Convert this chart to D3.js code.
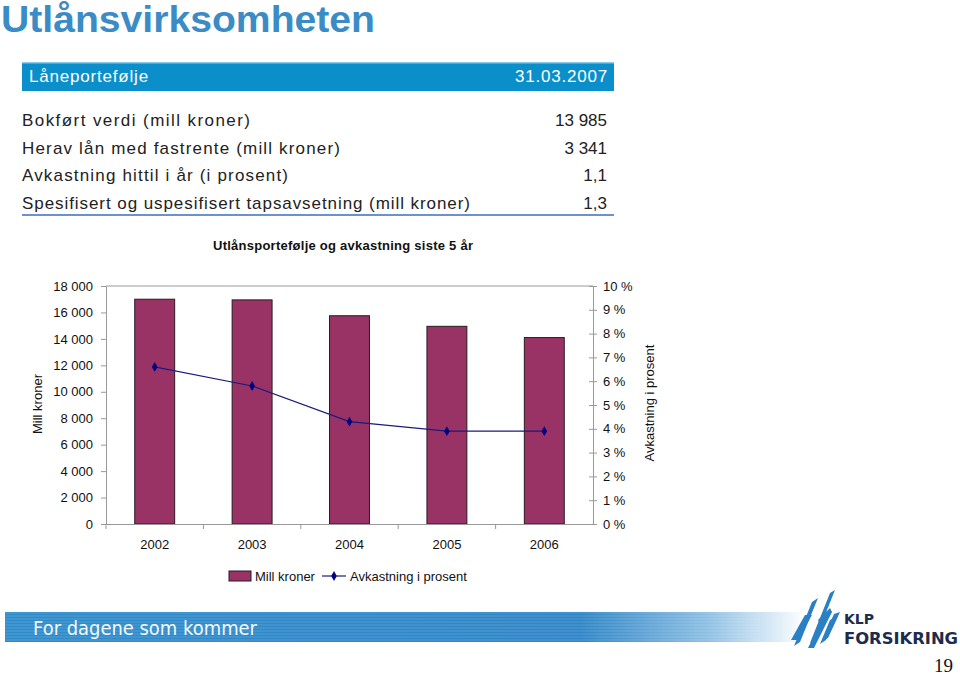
<!DOCTYPE html>
<html><head><meta charset="utf-8">
<script src="https://cdn.jsdelivr.net/npm/d3@7"></script>
<style>body{margin:0;background:#fff}svg{display:block}</style>
</head><body>
<svg id="c" width="960" height="675"></svg>
<script>
const years = ["2002","2003","2004","2005","2006"];
const loanValues = [17000, 16950, 15750, 14950, 14100];
const returnPct = [6.6, 5.8, 4.3, 3.9, 3.9];
const leftTicks = [0,2000,4000,6000,8000,10000,12000,14000,16000,18000];
const rightTicks = [0,1,2,3,4,5,6,7,8,9,10];
const tableLabels = ["Bokført verdi  (mill kroner)","Herav lån med fastrente (mill kroner)","Avkastning hittil i år (i prosent)","Spesifisert og uspesifisert tapsavsetning (mill kroner)"];
const tableValues = ["13 985","3 341","1,1","1,3"];
const tableLabelWidths = [228, 318, 266, 448];

const svg = d3.select("#c");
const F = "'Liberation Sans', Arial, sans-serif";

// Title
svg.append("text").attr("x",1).attr("y",32).attr("font-family",F).attr("font-weight","bold")
  .attr("font-size",36).attr("fill","#3b8cc6").attr("textLength",374).attr("lengthAdjust","spacingAndGlyphs")
  .text("Utlånsvirksomheten");

// Header bar
svg.append("rect").attr("x",22).attr("y",62).attr("width",592).attr("height",29).attr("fill","#0a8fca");
svg.append("rect").attr("x",22).attr("y",62).attr("width",592).attr("height",1.5).attr("fill","#8cc8ea");
svg.append("text").attr("x",29).attr("y",82).attr("font-family",F).attr("font-size",17).attr("fill","#fff")
  .attr("letter-spacing",0.8).text("Låneportefølje");
svg.append("text").attr("x",608).attr("y",82).attr("text-anchor","end").attr("font-family",F).attr("font-size",17)
  .attr("fill","#fff").attr("letter-spacing",0.8).text("31.03.2007");

// Table
tableLabels.forEach((t,i)=>{
  const y = 126 + i*27.7;
  svg.append("text").attr("x",22).attr("y",y).attr("font-family",F).attr("font-size",17).attr("fill","#222")
    .attr("textLength",tableLabelWidths[i]).attr("lengthAdjust","spacing").text(t);
  svg.append("text").attr("x",607).attr("y",y).attr("text-anchor","end").attr("font-family",F).attr("font-size",17).attr("fill","#222").text(tableValues[i]);
});
svg.append("line").attr("x1",22).attr("x2",614).attr("y1",215).attr("y2",215).attr("stroke","#3d6cc0").attr("stroke-width",1.5);

// Chart
const x0=106, x1=593, yTop=286, yBot=524;
const x = d3.scaleBand().domain(years).range([x0,x1]).paddingInner(0.59).paddingOuter(0.295);
const xb = d3.scaleBand().domain(years).range([x0,x1]);
const yL = d3.scaleLinear().domain([0,18000]).range([yBot,yTop]);
const yR = d3.scaleLinear().domain([0,10]).range([yBot,yTop]);
const fmt = d => d3.format(",")(d).replace(/,/g," ");

svg.append("text").attr("x",343).attr("y",250).attr("text-anchor","middle").attr("font-family",F)
  .attr("font-weight","bold").attr("font-size",13).attr("fill","#111")
  .attr("textLength",260).attr("lengthAdjust","spacing").text("Utlånsportefølje og avkastning siste 5 år");

// top border
svg.append("line").attr("x1",x0).attr("x2",x1).attr("y1",yTop).attr("y2",yTop).attr("stroke","#999");

// bars
svg.selectAll("rect.bar").data(years).join("rect").attr("class","bar")
  .attr("x",d=>x(d)).attr("width",x.bandwidth())
  .attr("y",(d,i)=>yL(loanValues[i])).attr("height",(d,i)=>yBot-yL(loanValues[i]))
  .attr("fill","#993366").attr("stroke","#2a1a22").attr("stroke-width",1);

// left axis
const gL = svg.append("g").attr("transform",`translate(${x0},0)`)
  .call(d3.axisLeft(yL).tickValues(leftTicks).tickFormat(fmt).tickSize(5).tickSizeOuter(0));
// right axis
const gR = svg.append("g").attr("transform",`translate(${x1},0)`)
  .call(d3.axisRight(yR).tickValues(rightTicks).tickFormat(d=>d+" %").tickSize(4).tickSizeOuter(0));
gR.selectAll(".tick line").attr("x1",-4);
// bottom axis
const gB = svg.append("g").attr("transform",`translate(0,${yBot})`)
  .call(d3.axisBottom(xb).tickSize(0).tickSizeOuter(0));
[gL,gR,gB].forEach(g=>{
  g.select(".domain").attr("stroke","#999");
  g.selectAll(".tick line").attr("stroke","#999");
  g.selectAll("text").attr("font-family",F).attr("font-size",13).attr("fill","#111");
});
gL.selectAll("text").attr("x",-13);
gR.selectAll("text").attr("x",10);
gB.selectAll("text").attr("dy",0).attr("y",25);
// category boundary ticks
svg.selectAll("line.ct").data(years).join("line").attr("class","ct")
  .attr("x1",d=>xb(d)).attr("x2",d=>xb(d)).attr("y1",yBot).attr("y2",yBot+5).attr("stroke","#999");

// line series
const line = d3.line().x((d,i)=>xb(years[i])+xb.bandwidth()/2).y(d=>yR(d));
svg.append("path").datum(returnPct).attr("d",line).attr("fill","none").attr("stroke","#1a1a80").attr("stroke-width",1.2);
const diamond = d3.symbol().type(d3.symbolDiamond).size(28);
svg.selectAll("path.mk").data(returnPct).join("path").attr("class","mk")
  .attr("transform",(d,i)=>`translate(${xb(years[i])+xb.bandwidth()/2},${yR(d)})`)
  .attr("d",diamond).attr("fill","#000080");

// axis titles
svg.append("text").attr("transform","translate(42,404) rotate(-90)").attr("text-anchor","middle")
  .attr("font-family",F).attr("font-size",13).attr("fill","#111").text("Mill kroner");
svg.append("text").attr("transform","translate(654,403) rotate(-90)").attr("text-anchor","middle")
  .attr("font-family",F).attr("font-size",13).attr("fill","#111").text("Avkastning i prosent");

// legend
svg.append("rect").attr("x",229).attr("y",571).attr("width",22).attr("height",10).attr("fill","#993366").attr("stroke","#2a1a22");
svg.append("text").attr("x",255).attr("y",581).attr("font-family",F).attr("font-size",13).attr("fill","#111").text("Mill kroner");
svg.append("line").attr("x1",322).attr("x2",346).attr("y1",576).attr("y2",576).attr("stroke","#1a1a80").attr("stroke-width",1.2);
svg.append("path").attr("transform","translate(334,576)").attr("d",diamond).attr("fill","#000080");
svg.append("text").attr("x",350).attr("y",581).attr("font-family",F).attr("font-size",13).attr("fill","#111").text("Avkastning i prosent");

// footer banner
const defs = svg.append("defs");
const gr = defs.append("linearGradient").attr("id","bg").attr("x1","0").attr("x2","1").attr("y1","0").attr("y2","0");
gr.append("stop").attr("offset","0").attr("stop-color","#2f8ccb");
gr.append("stop").attr("offset","0.72").attr("stop-color","#2f86c6");
gr.append("stop").attr("offset","0.88").attr("stop-color","#8fc0e4");
gr.append("stop").attr("offset","1").attr("stop-color","#ffffff");
svg.append("rect").attr("x",5).attr("y",612).attr("width",800).attr("height",30).attr("fill","url(#bg)");
d3.range(613,642,3).forEach(yy=>{
  svg.append("line").attr("x1",5).attr("x2",760).attr("y1",yy).attr("y2",yy).attr("stroke","#ffffff").attr("stroke-opacity",0.18).attr("stroke-width",1);
});
svg.append("text").attr("x",33).attr("y",635).attr("font-family","'DejaVu Sans', sans-serif").attr("font-size",19)
  .attr("fill","#f2f8fc").attr("textLength",224).attr("lengthAdjust","spacingAndGlyphs").text("For dagene som kommer");

// logo mark
const lg = svg.append("g").attr("fill","#2a80c2");
const polys = [
  [[805,615],[812,615],[798,640],[791,640]],
  [[812,602],[818,598],[800,642],[794,646]],
  [[818,620],[830,608],[832,612],[820,624]],
  [[826,612],[832,612],[814,648],[808,648]],
  [[830,593],[835,590],[815,640],[810,643]],
  [[830,620],[838,616],[826,640],[820,644]],
  [[834,614],[840,612],[828,638],[822,640]]
];
polys.forEach(p=>lg.append("polygon").attr("points",p.map(q=>q.join(",")).join(" ")));
svg.append("text").attr("x",844).attr("y",624).attr("font-family","'DejaVu Sans', sans-serif").attr("font-weight","bold")
  .attr("font-size",14).attr("fill","#1c2c4c").text("KLP");
svg.append("text").attr("x",844).attr("y",644).attr("font-family","'DejaVu Sans', sans-serif").attr("font-weight","bold")
  .attr("font-size",16).attr("fill","#1c2c4c").attr("textLength",114).attr("lengthAdjust","spacingAndGlyphs").text("FORSIKRING");
svg.append("text").attr("x",953).attr("y",672).attr("text-anchor","end").attr("font-family","'Liberation Serif', serif")
  .attr("font-size",19).attr("fill","#111").text("19");
</script>
</body></html>
